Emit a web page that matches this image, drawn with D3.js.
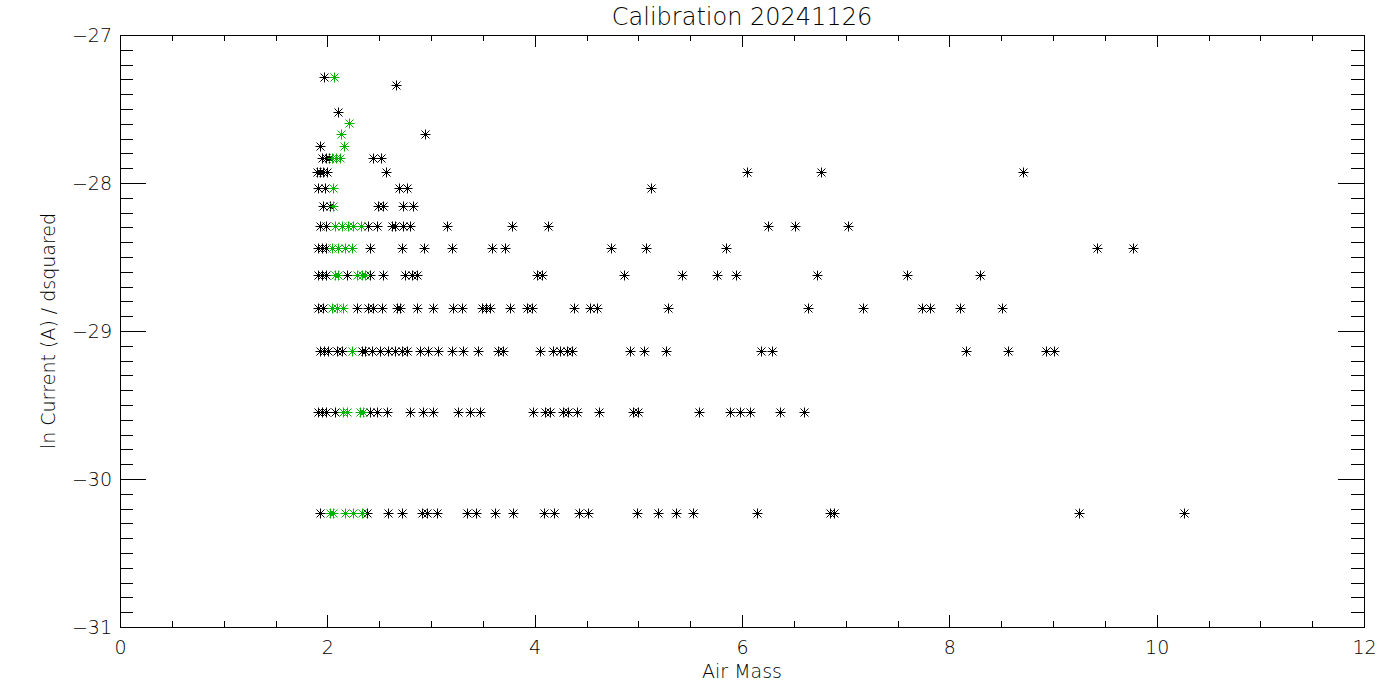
<!DOCTYPE html>
<html>
<head>
<meta charset="utf-8">
<script src="https://cdn.jsdelivr.net/npm/d3@7"></script>
<style>
  html, body { margin: 0; padding: 0; background: #fff; }
  svg text { font-family: "DejaVu Sans ExtraLight", "DejaVu Sans", sans-serif; font-weight: 200; fill: #000; }
</style>
</head>
<body>
<svg id="chart" width="1400" height="700"></svg>
<script>
// ---- data ----
const title = "Calibration 20241126";
const xLabel = "Air Mass";
const yLabel = "ln Current (A) / dsquared";
const xTicks = [0, 2, 4, 6, 8, 10, 12];
const yTicks = [-31, -30, -29, -28, -27];

const blackAirMass = [
  1.971,
  2.665,
  2.106,
  2.945,
  1.932,
  1.948, 1.987, 2.016, 2.443, 2.518,
  1.900, 1.929, 1.958, 1.997, 2.566, 6.051, 6.765, 8.713,
  1.913, 1.977, 2.694, 2.765, 5.125,
  1.961, 2.026, 2.492, 2.540, 2.733, 2.829,
  1.929, 1.984, 2.395, 2.476, 2.621, 2.653, 2.733, 2.797, 3.151, 3.784, 4.131, 6.254, 6.511, 7.025,
  1.913, 1.948, 1.987, 2.411, 2.723, 2.932, 3.205, 3.591, 3.717, 4.739, 5.077, 5.848, 9.427, 9.774,
  1.910, 1.948, 1.987, 2.187, 2.411, 2.540, 2.749, 2.814, 2.862, 4.019, 4.068, 4.864, 5.424, 5.762, 5.945, 6.726, 7.588, 8.296,
  1.913, 1.961, 2.283, 2.395, 2.443, 2.524, 2.669, 2.701, 2.862, 3.022, 3.215, 3.296, 3.489, 3.530, 3.569, 3.762, 3.923, 3.971, 4.382, 4.534, 4.598, 5.289, 6.639, 7.170, 7.733, 7.813, 8.103, 8.505,
  1.929, 1.968, 2.006, 2.090, 2.139, 2.331, 2.363, 2.428, 2.508, 2.588, 2.653, 2.717, 2.765, 2.894, 2.974, 3.070, 3.200, 3.311, 3.456, 3.649, 3.697, 4.051, 4.180, 4.244, 4.309, 4.357, 4.920, 5.057, 5.270, 6.183, 6.292, 8.161, 8.569, 8.932, 9.012,
  1.910, 1.948, 1.987, 2.074, 2.411, 2.476, 2.573, 2.797, 2.926, 3.022, 3.263, 3.376, 3.473, 3.987, 4.100, 4.148, 4.276, 4.324, 4.405, 4.623, 4.951, 5.000, 5.588, 5.884, 5.981, 6.077, 6.366, 6.601,
  1.929, 2.380, 2.588, 2.717, 2.910, 2.958, 3.055, 3.344, 3.434, 3.617, 3.794, 4.090, 4.186, 4.430, 4.517, 4.990, 5.192, 5.363, 5.530, 6.147, 6.849, 6.887, 9.253, 10.266
];
const blackLnCurrent = [
  -27.286,
  -27.338,
  -27.522,
  -27.671,
  -27.747,
  -27.833, -27.833, -27.833, -27.833, -27.833,
  -27.929, -27.929, -27.929, -27.929, -27.929, -27.929, -27.929, -27.929,
  -28.036, -28.036, -28.036, -28.036, -28.036,
  -28.153, -28.153, -28.153, -28.153, -28.153, -28.153,
  -28.289, -28.289, -28.289, -28.289, -28.289, -28.289, -28.289, -28.289, -28.289, -28.289, -28.289, -28.289, -28.289, -28.289,
  -28.441, -28.441, -28.441, -28.441, -28.441, -28.441, -28.441, -28.441, -28.441, -28.441, -28.441, -28.441, -28.441, -28.441,
  -28.623, -28.623, -28.623, -28.623, -28.623, -28.623, -28.623, -28.623, -28.623, -28.623, -28.623, -28.623, -28.623, -28.623, -28.623, -28.623, -28.623, -28.623,
  -28.847, -28.847, -28.847, -28.847, -28.847, -28.847, -28.847, -28.847, -28.847, -28.847, -28.847, -28.847, -28.847, -28.847, -28.847, -28.847, -28.847, -28.847, -28.847, -28.847, -28.847, -28.847, -28.847, -28.847, -28.847, -28.847, -28.847, -28.847,
  -29.136, -29.136, -29.136, -29.136, -29.136, -29.136, -29.136, -29.136, -29.136, -29.136, -29.136, -29.136, -29.136, -29.136, -29.136, -29.136, -29.136, -29.136, -29.136, -29.136, -29.136, -29.136, -29.136, -29.136, -29.136, -29.136, -29.136, -29.136, -29.136, -29.136, -29.136, -29.136, -29.136, -29.136, -29.136,
  -29.544, -29.544, -29.544, -29.544, -29.544, -29.544, -29.544, -29.544, -29.544, -29.544, -29.544, -29.544, -29.544, -29.544, -29.544, -29.544, -29.544, -29.544, -29.544, -29.544, -29.544, -29.544, -29.544, -29.544, -29.544, -29.544, -29.544, -29.544,
  -30.232, -30.232, -30.232, -30.232, -30.232, -30.232, -30.232, -30.232, -30.232, -30.232, -30.232, -30.232, -30.232, -30.232, -30.232, -30.232, -30.232, -30.232, -30.232, -30.232, -30.232, -30.232, -30.232, -30.232
];

const greenAirMass = [
  2.067,
  2.212,
  2.132,
  2.164,
  2.045, 2.084, 2.122,
  2.057,
  2.057,
  2.074, 2.139, 2.202, 2.250, 2.325,
  2.042, 2.106, 2.170, 2.235,
  2.074, 2.106, 2.283, 2.331, 2.363,
  2.042, 2.090, 2.154,
  2.235,
  2.154, 2.187, 2.315, 2.347,
  2.026, 2.057, 2.170, 2.250, 2.331
];
const greenLnCurrent = [
  -27.286,
  -27.597,
  -27.671,
  -27.747,
  -27.833, -27.833, -27.833,
  -28.036,
  -28.153,
  -28.289, -28.289, -28.289, -28.289, -28.289,
  -28.441, -28.441, -28.441, -28.441,
  -28.623, -28.623, -28.623, -28.623, -28.623,
  -28.847, -28.847, -28.847,
  -29.136,
  -29.544, -29.544, -29.544, -29.544,
  -30.232, -30.232, -30.232, -30.232, -30.232
];

// ---- layout ----
const svg = d3.select("#chart");
const mLeft = 120, mRight = 1364, mTop = 35, mBottom = 627;
const x = d3.scaleLinear().domain([0, 12]).range([mLeft, mRight]);
const y = d3.scaleLinear().domain([-31, -27]).range([mBottom, mTop]);

const xMinor = d3.range(0, 12.001, 0.5).filter(v => Math.abs(v / 2 - Math.round(v / 2)) > 1e-6);
const yMinor = d3.range(-31, -26.999, 0.1).map(v => +v.toFixed(1)).filter(v => Math.abs(v - Math.round(v)) > 1e-6);

const axisG = svg.append("g").attr("shape-rendering", "crispEdges");

function styleAxis(g) {
  g.select(".domain").remove();
  g.selectAll("line").attr("stroke", "#000").attr("stroke-width", 1);
}

// bottom
axisG.append("g").attr("transform", `translate(0,${mBottom})`)
  .call(d3.axisBottom(x).tickValues(xTicks).tickSize(-12).tickPadding(26).tickFormat(d3.format("d")))
  .call(styleAxis)
  .call(g => g.selectAll("text").attr("font-size", 19).attr("dy", "0.32em").attr("y", 21));
axisG.append("g").attr("transform", `translate(0,${mBottom})`)
  .call(d3.axisBottom(x).tickValues(xMinor).tickSize(-6).tickFormat(""))
  .call(styleAxis);
// top
axisG.append("g").attr("transform", `translate(0,${mTop})`)
  .call(d3.axisTop(x).tickValues(xTicks).tickSize(-12).tickFormat(""))
  .call(styleAxis);
axisG.append("g").attr("transform", `translate(0,${mTop})`)
  .call(d3.axisTop(x).tickValues(xMinor).tickSize(-6).tickFormat(""))
  .call(styleAxis);
// left
axisG.append("g").attr("transform", `translate(${mLeft},0)`)
  .call(d3.axisLeft(y).tickValues(yTicks).tickSize(-26).tickFormat(d3.format("d")))
  .call(styleAxis)
  .call(g => g.selectAll("text").attr("font-size", 19).attr("x", -8));
axisG.append("g").attr("transform", `translate(${mLeft},0)`)
  .call(d3.axisLeft(y).tickValues(yMinor).tickSize(-13).tickFormat(""))
  .call(styleAxis);
// right
axisG.append("g").attr("transform", `translate(${mRight},0)`)
  .call(d3.axisRight(y).tickValues(yTicks).tickSize(-26).tickFormat(""))
  .call(styleAxis);
axisG.append("g").attr("transform", `translate(${mRight},0)`)
  .call(d3.axisRight(y).tickValues(yMinor).tickSize(-13).tickFormat(""))
  .call(styleAxis);

// frame
axisG.append("rect")
  .attr("x", mLeft).attr("y", mTop)
  .attr("width", mRight - mLeft).attr("height", mBottom - mTop)
  .attr("fill", "none").attr("stroke", "#000").attr("stroke-width", 1);

// ---- marks ----
const star = "M-5,0H5M0,-5V5M-4,-4L4,4M-4,4L4,-4";
function drawPoints(xs, ys, color) {
  svg.append("g")
    .selectAll("path")
    .data(xs.map((v, i) => [v, ys[i]]))
    .join("path")
    .attr("d", star)
    .attr("transform", d => `translate(${Math.round(x(d[0])) + 0.5},${Math.round(y(d[1])) + 0.5})`)
    .attr("fill", "none")
    .attr("stroke", color)
    .attr("stroke-width", 1);
}
drawPoints(blackAirMass, blackLnCurrent, "#000");
drawPoints(greenAirMass, greenLnCurrent, "#00b400");

// ---- titles ----
svg.append("text")
  .attr("x", (mLeft + mRight) / 2).attr("y", 25)
  .attr("text-anchor", "middle").attr("font-size", 24)
  .text(title);
svg.append("text")
  .attr("x", (mLeft + mRight) / 2).attr("y", 678)
  .attr("text-anchor", "middle").attr("font-size", 19)
  .text(xLabel);
svg.append("text")
  .attr("transform", `translate(55,${(mTop + mBottom) / 2}) rotate(-90)`)
  .attr("text-anchor", "middle").attr("font-size", 19)
  .text(yLabel);
</script>
</body>
</html>
